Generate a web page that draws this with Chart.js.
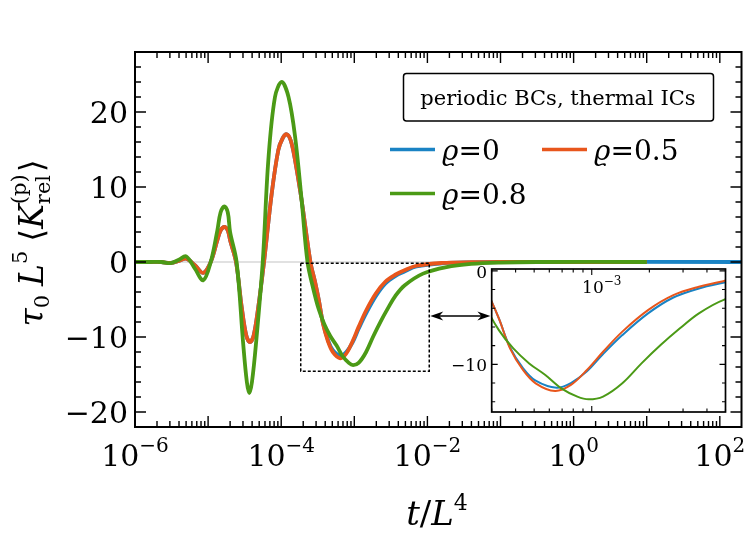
<!DOCTYPE html>
<html lang="en">
<head>
<meta charset="UTF-8">
<title>Relative curvature, periodic BCs</title>
<script src="https://cdn.jsdelivr.net/npm/chart.js"></script>
<style>
  body { margin: 0; background: #fff; }
  #wrap { position: relative; width: 750px; height: 542px; }
  #mainChart { position: absolute; left: 0; top: 0; }
  #insetChart { position: absolute; left: 440px; top: 258px; }
</style>
</head>
<body>
<div id="wrap">
  <canvas id="mainChart" width="750" height="542"></canvas>
  <canvas id="insetChart" width="300" height="165"></canvas>
</div>
<script>
// t/L^4 and tau0 L^5 <K_rel>
const tRho05 = [1e-6, 1.58e-6, 2.29e-6, 3.09e-6, 3.98e-6, 5.01e-6, 6.61e-6, 8.59e-6, 1.086e-5, 1.337e-5,
  1.48e-5, 1.667e-5, 1.86e-5, 2.0e-5, 2.41e-5, 2.88e-5, 3.33e-5, 3.74e-5, 4.2e-5, 4.86e-5,
  5.82e-5, 7.41e-5, 9.12e-5, 1.047e-4, 1.189e-4, 1.35e-4, 1.549e-4, 1.905e-4, 2.51e-4, 2.88e-4,
  3.27e-4, 3.74e-4, 4.37e-4, 5.09e-4, 6.43e-4, 7.78e-4, 9.44e-4, 1.146e-3, 1.445e-3, 1.968e-3,
  2.67e-3, 3.63e-3, 4.86e-3, 7.08e-3, 1.585e-2, 3.98e-2, 0.1, 10];
const kRho05 = [0, 0, 0, -0.13, 0.15, 0.45, -0.44, -1.46, 0, 2.9,
  4.2, 4.67, 4.2, 2.9, 0, -6.0, -9.8, -10.67, -9.8, -6.0,
  0, 9.1, 14.9, 16.5, 17.03, 16.2, 13.56, 8.2, 0, -2.5,
  -5.09, -8.29, -10.6, -12.03, -12.85, -12.2, -10.6, -8.65, -6.5, -4.2,
  -2.6, -1.7, -1.1, -0.5, -0.13, -0.03, 0, 0];

const tRho0 = [1e-6, 1.58e-6, 2.29e-6, 3.09e-6, 3.98e-6, 5.01e-6, 6.61e-6, 8.59e-6, 1.086e-5, 1.337e-5,
  1.48e-5, 1.667e-5, 1.86e-5, 2.0e-5, 2.41e-5, 2.88e-5, 3.33e-5, 3.74e-5, 4.2e-5, 4.86e-5,
  5.82e-5, 7.41e-5, 9.12e-5, 1.047e-4, 1.189e-4, 1.35e-4, 1.549e-4, 1.905e-4, 2.51e-4, 2.88e-4,
  3.27e-4, 3.74e-4, 4.37e-4, 5.09e-4, 6.55e-4, 7.78e-4, 9.44e-4, 1.146e-3, 1.445e-3, 1.968e-3,
  2.67e-3, 3.63e-3, 4.86e-3, 7.08e-3, 1.585e-2, 3.98e-2, 0.1, 316];
const kRho0 = [0, 0, 0, -0.13, 0.15, 0.45, -0.44, -1.46, 0, 2.9,
  4.2, 4.67, 4.2, 2.9, 0, -6.0, -9.8, -10.67, -9.8, -6.0,
  0, 9.1, 14.9, 16.5, 17.03, 16.2, 13.56, 8.2, 0, -2.5,
  -5.09, -8.2, -10.4, -11.75, -12.5, -12.0, -10.75, -8.9, -6.87, -4.55,
  -2.85, -1.88, -1.28, -0.6, -0.17, -0.04, 0, 0];

const tRho08 = [1e-6, 1.58e-6, 2.29e-6, 3.09e-6, 3.98e-6, 5.01e-6, 6.61e-6, 8.59e-6, 1.086e-5, 1.337e-5,
  1.48e-5, 1.667e-5, 1.86e-5, 2.0e-5, 2.455e-5, 3.02e-5, 3.39e-5, 3.66e-5, 3.98e-5, 4.52e-5,
  5.59e-5, 6.67e-5, 8.22e-5, 1.016e-4, 1.259e-4, 1.549e-4, 1.905e-4, 2.29e-4,
  2.75e-4, 3.27e-4, 3.89e-4, 4.71e-4, 5.72e-4, 6.93e-4, 8.41e-4, 9.62e-4, 1.146e-3, 1.445e-3,
  1.82e-3, 2.29e-3, 2.89e-3, 3.63e-3, 4.86e-3, 8.71e-3, 1.82e-2, 3.98e-2, 0.1, 0.316, 10];
const kRho08 = [0, 0, 0, -0.15, 0.3, 0.76, -0.9, -2.44, 0, 4.2,
  6.6, 7.43, 6.6, 4.0, 0, -10.9, -16.0, -17.47, -16.0, -10.9,
  0, 13.6, 22, 24.0, 22, 16.7, 8.2, 0,
  -3.6, -6.34, -8.3, -9.9, -11.14, -12.57, -13.45, -13.74, -13.45, -12.03,
  -9.9, -7.94, -6.15, -4.55, -3.13, -1.55, -0.67, -0.25, -0.07, 0, 0];

const seriesLabels = ['0', '0.5', '0.8'];
const xTickExps = [-6, -4, -2, 0, 2];
const yTicksMain = [-20, -10, 0, 10, 20];
const yTicksInset = [0, -10];
const zoomBox = { t0: 1.85e-4, t1: 1.06e-2, k0: -14.55, k1: -0.15 };

const colRho0 = '#1a83c4';
const colRho05 = '#e8561c';
const colRho08 = '#4b9a16';
const SERIF = "'DejaVu Serif', 'DejaVu Sans', serif";

function pts(t, k) { return t.map((v, i) => ({ x: v, y: k[i] })); }

function fnt(size, it) { return (it ? 'italic ' : '') + size + 'px ' + SERIF; }

// runs of text pieces, for super/subscripts
function partWidth(ctx, p) {
  ctx.font = fnt(p.size, p.it);
  if (p.sup !== undefined) {
    return Math.max(ctx.measureText(p.sup).width, ctx.measureText(p.sub).width);
  }
  return ctx.measureText(p.t).width;
}
function drawRun(ctx, parts, x, y, align) {
  let w = 0;
  parts.forEach(p => { w += partWidth(ctx, p) + (p.gap || 0); });
  let cx = align === 'center' ? x - w / 2 : align === 'right' ? x - w : x;
  ctx.textAlign = 'left';
  ctx.textBaseline = 'alphabetic';
  parts.forEach(p => {
    ctx.font = fnt(p.size, p.it);
    if (p.sup !== undefined) {
      ctx.fillText(p.sup, cx, y + p.supDy);
      ctx.fillText(p.sub, cx, y + p.subDy);
    } else {
      ctx.fillText(p.t, cx, y + (p.dy || 0));
    }
    cx += partWidth(ctx, p) + (p.gap || 0);
  });
}

function logTicks(lo, hi) {
  const out = [];
  for (let e = -8; e <= 3; e++) {
    for (let m = 1; m <= 9; m++) {
      const v = m * Math.pow(10, e);
      if (v >= lo * 0.999 && v <= hi * 1.001) out.push({ v, major: m === 1 });
    }
  }
  return out;
}

function drawFrameTicks(ctx, a, xs, ys, xTicks, yTicks, lenMaj, lenMin, lw) {
  ctx.save();
  ctx.strokeStyle = '#000';
  ctx.lineWidth = lw;
  ctx.beginPath();
  xTicks.forEach(tk => {
    const px = xs.getPixelForValue(tk.v);
    const L = tk.major ? lenMaj : lenMin;
    ctx.moveTo(px, a.bottom); ctx.lineTo(px, a.bottom - L);
    ctx.moveTo(px, a.top); ctx.lineTo(px, a.top + L);
  });
  yTicks.forEach(tk => {
    const py = ys.getPixelForValue(tk.v);
    const L = tk.major ? lenMaj : lenMin;
    ctx.moveTo(a.left, py); ctx.lineTo(a.left + L, py);
    ctx.moveTo(a.right, py); ctx.lineTo(a.right - L, py);
  });
  ctx.stroke();
  ctx.lineWidth = lw + 0.6;
  ctx.strokeRect(a.left, a.top, a.right - a.left, a.bottom - a.top);
  ctx.restore();
}

const mainDecor = {
  id: 'mainDecor',
  afterDatasetsDraw(chart) {
    const { ctx, chartArea: a, scales: { x, y } } = chart;
    ctx.save();

    // zoom box
    ctx.strokeStyle = '#000';
    ctx.lineWidth = 1.5;
    ctx.setLineDash([3, 2]);
    const bx0 = x.getPixelForValue(zoomBox.t0), bx1 = x.getPixelForValue(zoomBox.t1);
    const by0 = y.getPixelForValue(zoomBox.k1), by1 = y.getPixelForValue(zoomBox.k0);
    ctx.strokeRect(bx0, by0, bx1 - bx0, by1 - by0);
    ctx.setLineDash([]);

    // double arrow box -> inset
    const ay = y.getPixelForValue(-7.2);
    const ax0 = bx1 + 1, ax1 = x.getPixelForValue(7.5e-2) - 1;
    ctx.lineWidth = 1.5;
    ctx.beginPath(); ctx.moveTo(ax0 + 6, ay); ctx.lineTo(ax1 - 6, ay); ctx.stroke();
    ctx.fillStyle = '#000';
    [[ax0, 1], [ax1, -1]].forEach(([px, d]) => {
      ctx.beginPath();
      ctx.moveTo(px, ay);
      ctx.lineTo(px + d * 13, ay - 4.5);
      ctx.lineTo(px + d * 9, ay);
      ctx.lineTo(px + d * 13, ay + 4.5);
      ctx.closePath(); ctx.fill();
    });

    // frame and ticks
    const yt = [];
    for (let v = -22; v <= 28; v += 2) yt.push({ v, major: v % 10 === 0 });
    drawFrameTicks(ctx, a, x, y, logTicks(x.min, x.max), yt, 11, 6, 1.4);

    ctx.fillStyle = '#000';
    // x tick labels
    xTickExps.forEach(e => {
      const px = x.getPixelForValue(Math.pow(10, e));
      const ex = (e < 0 ? '\u2212' : '') + Math.abs(e);
      drawRun(ctx, [{ t: '10', size: 30 }, { t: ex, size: 20, dy: -14 }], px, 466, 'center');
    });
    // y tick labels
    yTicksMain.forEach(v => {
      const py = y.getPixelForValue(v);
      const s = (v < 0 ? '\u2212' : '') + Math.abs(v);
      drawRun(ctx, [{ t: s, size: 30 }], 128, py + 10.5, 'right');
    });

    // axis titles
    drawRun(ctx, [{ t: 't', size: 34, it: true }, { t: '/', size: 34 }, { t: 'L', size: 34, it: true },
      { t: '4', size: 22, dy: -15 }], 437, 525, 'center');
    ctx.save();
    ctx.translate(43, 243);
    ctx.rotate(-Math.PI / 2);
    drawRun(ctx, [
      { t: '\u03c4', size: 33, it: true }, { t: '0', size: 21, dy: 6, gap: 9 },
      { t: 'L', size: 33, it: true }, { t: '5', size: 21, dy: -16, gap: 9 },
      { t: '\u27e8', size: 33 }, { t: 'K', size: 33, it: true },
      { sup: '(p)', sub: 'rel', size: 21, supDy: -17, subDy: 7, gap: 2 },
      { t: '\u27e9', size: 33 }
    ], 0, 0, 'center');
    ctx.restore();

    // legend: caption box
    ctx.lineWidth = 1.5;
    ctx.strokeStyle = '#000';
    ctx.beginPath();
    ctx.roundRect(403.5, 73.5, 310, 47.5, 3);
    ctx.stroke();
    drawRun(ctx, [{ t: 'periodic BCs, thermal ICs', size: 21 }], 558, 105, 'center');

    // legend entries
    const ent = [[colRho0, seriesLabels[0], 390, 149.5], [colRho05, seriesLabels[1], 542, 149.5],
      [colRho08, seriesLabels[2], 390, 193.5]];
    ent.forEach(([c, lab, lx, ly]) => {
      ctx.strokeStyle = c;
      ctx.lineWidth = 3.5;
      ctx.beginPath(); ctx.moveTo(lx, ly); ctx.lineTo(lx + 45, ly); ctx.stroke();
      ctx.fillStyle = '#000';
      drawRun(ctx, [{ t: '\u03f1', size: 28, it: true }, { t: '=' + lab, size: 28 }], lx + 52, ly + 10, 'left');
    });

    ctx.restore();
  }
};

const insetDecor = {
  id: 'insetDecor',
  beforeDatasetsDraw(chart) {
    const { ctx, chartArea: a } = chart;
    ctx.save();
    ctx.fillStyle = '#fff';
    ctx.fillRect(a.left, a.top, a.right - a.left, a.bottom - a.top);
    ctx.restore();
  },
  afterDatasetsDraw(chart) {
    const { ctx, chartArea: a, scales: { x, y } } = chart;
    ctx.save();
    const yt = [];
    for (let v = -14; v <= 0; v += 2) yt.push({ v, major: v % 10 === 0 });
    drawFrameTicks(ctx, a, x, y, logTicks(x.min, x.max), yt, 6, 3.5, 1.1);
    ctx.fillStyle = '#000';
    yTicksInset.forEach(v => {
      const s = (v < 0 ? '\u2212' : '') + Math.abs(v);
      drawRun(ctx, [{ t: s, size: 17 }], 47, y.getPixelForValue(v) + 7, 'right');
    });
    const px = x.getPixelForValue(1e-3);
    drawRun(ctx, [{ t: '10', size: 17 }, { t: '\u22123', size: 12, dy: -8 }], px + 10, 35, 'center');
    ctx.restore();
  }
};

function lineSet(label, t, k, color, w) {
  return {
    label, data: pts(t, k), borderColor: color, borderWidth: w,
    pointRadius: 0, fill: false, tension: 0.35
  };
}

new Chart(document.getElementById('mainChart'), {
  type: 'line',
  data: {
    datasets: [
      lineSet('\u03f1=0.8', tRho08, kRho08, colRho08, 3.8),
      lineSet('\u03f1=0.5', tRho05, kRho05, colRho05, 3.8),
      lineSet('\u03f1=0', tRho0, kRho0, colRho0, 3.8),
      { label: 'zero', data: [{ x: 1e-7, y: 0 }, { x: 1e3, y: 0 }], borderColor: '#c4c4c4',
        borderWidth: 1.2, pointRadius: 0 }
    ]
  },
  options: {
    responsive: false,
    animation: false,
    devicePixelRatio: 1,
    events: [],
    layout: { padding: { left: 135, top: 52, right: 8.5, bottom: 115 } },
    scales: {
      x: { type: 'logarithmic', min: 1e-6, max: 198, display: false },
      y: { type: 'linear', min: -22, max: 28, display: false }
    },
    plugins: { legend: { display: false }, tooltip: { enabled: false } }
  },
  plugins: [mainDecor]
});

new Chart(document.getElementById('insetChart'), {
  type: 'line',
  data: {
    datasets: [
      lineSet('\u03f1=0.8', tRho08, kRho08, colRho08, 2),
      lineSet('\u03f1=0.5', tRho05, kRho05, colRho05, 2),
      lineSet('\u03f1=0', tRho0, kRho0, colRho0, 2)
    ]
  },
  options: {
    responsive: false,
    animation: false,
    devicePixelRatio: 1,
    events: [],
    layout: { padding: { left: 51.7, top: 11, right: 14.5, bottom: 11 } },
    scales: {
      x: { type: 'logarithmic', min: 3.2e-4, max: 5.0e-3, display: false },
      y: { type: 'linear', min: -15.1, max: 0.2, display: false }
    },
    plugins: { legend: { display: false }, tooltip: { enabled: false } }
  },
  plugins: [insetDecor]
});
</script>
</body>
</html>
